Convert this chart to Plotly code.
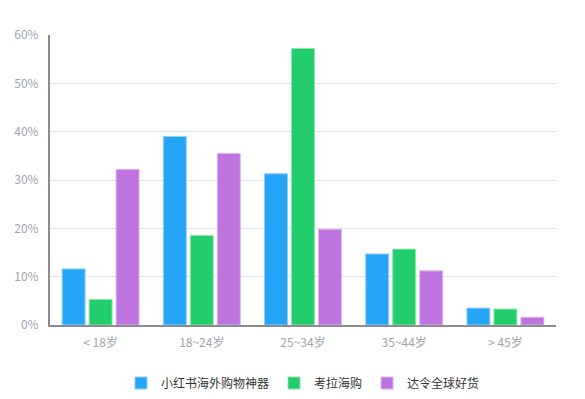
import plotly.graph_objects as go

categories = ["< 18岁", "18~24岁", "25~34岁", "35~44岁", "> 45岁"]
series_names = ["小红书海外购物神器", "考拉海购", "达令全球好货"]
xhs = [11.6, 39.0, 31.3, 14.7, 3.5]
kaola = [5.3, 18.5, 57.2, 15.7, 3.3]
daling = [32.2, 35.5, 19.8, 11.2, 1.6]
y_ticks = [0, 10, 20, 30, 40, 50, 60]

colors = ["#24a5f7", "#21ce6b", "#be74de"]
borders = ["#8fd0fb", "#8ee6b3", "#dcb4ee"]

fig = go.Figure()
for name, vals, c, b in zip(series_names, [xhs, kaola, daling], colors, borders):
    fig.add_trace(go.Bar(x=categories, y=vals, name=name,
                         marker=dict(color=c, line=dict(color=b, width=1))))

font_family = "Noto Sans CJK SC, Noto Sans, sans-serif"
fig.update_layout(
    width=585, height=399,
    margin=dict(l=50, r=29, t=35, b=74, autoexpand=False),
    plot_bgcolor="white", paper_bgcolor="white",
    barmode="group", bargap=0.2, bargroupgap=0.15,
    font=dict(family=font_family, size=12, color="#a0a3ae"),
    showlegend=True,
    legend=dict(orientation="h", x=0.5, xanchor="center", y=-0.15, yanchor="top",
                font=dict(size=12, color="#333333"), itemwidth=30),
    xaxis=dict(showline=True, linecolor="#8c8c8c", linewidth=2,
               ticks="outside", ticklen=6, tickcolor="rgba(0,0,0,0)",
               tickfont=dict(color="#a0a3ae", size=12), showgrid=False,
               automargin=False),
    yaxis=dict(range=[0, 60], tickvals=y_ticks, ticktext=[f"{t}%" for t in y_ticks],
               showline=True, linecolor="#8c8c8c", linewidth=2,
               gridcolor="#e0e0ee", gridwidth=1, zeroline=False,
               tickfont=dict(color="#a0a3ae", size=12),
               ticks="outside", ticklen=7, tickcolor="rgba(0,0,0,0)",
               automargin=False),
)
fig.write_html("out.html", post_script="document.body.style.margin='0';",
               config={"displayModeBar": False})
